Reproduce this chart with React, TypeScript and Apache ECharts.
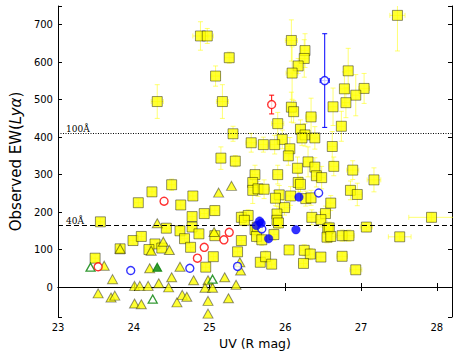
import React, { useEffect, useRef } from "react";
import * as echarts from "echarts";

// Tick values (labels) of the axes
const xTickValues = [23, 24, 25, 26, 27, 28];
const yTickValues = [0, 100, 200, 300, 400, 500, 600, 700];

// Reference lines
const ewLines = [
  { value: 410, label: "100Å" },
  { value: 164, label: "40Å" },
];

// Yellow squares: [UV (R mag), EW, EW error, UV error]
const squares: number[][] = [
  [24.31, 495, 45, 0.08], [24.88, 670, 38, 0.1], [24.97, 670, 20, 0.08], [25.08, 563, 27, 0.06],
  [25.17, 495, 45, 0.08], [25.26, 612, 15, 0.06], [25.31, 409, 20, 0.06], [25.15, 344, 30, 0.05],
  [25.34, 336, 15, 0.06], [26.08, 658, 55, 0.08], [26.26, 631, 45, 0.05], [26.25, 610, 50, 0.06],
  [26.17, 590, 20, 0.05], [26.09, 571, 70, 0.08], [27.48, 725, 95, 0.1], [26.83, 577, 60, 0.05],
  [26.78, 529, 45, 0.06], [27.04, 530, 40, 0.07], [26.93, 512, 55, 0.05], [26.8, 492, 40, 0.05],
  [26.63, 481, 50, 0.06], [26.08, 480, 40, 0.06], [26.11, 468, 30, 0.05], [26.34, 454, 50, 0.07],
  [25.9, 436, 30, 0.08], [26.74, 429, 40, 0.05], [26.2, 421, 25, 0.05], [26.26, 406, 30, 0.06],
  [26.22, 398, 20, 0.05], [26.39, 398, 30, 0.06], [25.96, 394, 25, 0.05], [25.55, 385, 25, 0.07],
  [25.71, 380, 20, 0.06], [25.86, 380, 25, 0.06], [26.62, 375, 40, 0.06], [26.06, 369, 30, 0.06],
  [26.04, 350, 25, 0.05], [26.3, 334, 40, 0.06], [26.16, 317, 30, 0.05], [26.39, 320, 25, 0.05],
  [26.64, 322, 25, 0.06], [26.89, 312, 25, 0.08], [27.17, 286, 32, 0.09], [25.6, 300, 25, 0.06],
  [25.9, 300, 25, 0.06], [24.5, 273, 15, 0.05], [24.24, 254, 12, 0.05], [24.78, 243, 10, 0.05],
  [24.62, 219, 10, 0.05], [23.56, 174, 10, 0.05], [24.06, 225, 10, 0.05], [25.07, 204, 12, 0.05],
  [24.93, 196, 10, 0.05], [24.77, 188, 10, 0.05], [25.57, 279, 30, 0.05], [25.57, 258, 35, 0.05],
  [25.64, 262, 20, 0.05], [25.72, 261, 25, 0.07], [25.99, 212, 20, 0.08], [25.92, 246, 25, 0.05],
  [25.87, 237, 20, 0.05], [26.07, 243, 25, 0.06], [25.42, 186, 15, 0.05], [25.51, 191, 15, 0.05],
  [25.89, 195, 20, 0.05], [25.46, 178, 15, 0.05], [24.43, 157, 10, 0.05], [24.61, 150, 10, 0.05],
  [24.77, 160, 10, 0.05], [24.86, 142, 10, 0.05], [24.67, 129, 10, 0.05], [25.07, 137, 10, 0.05],
  [23.99, 124, 10, 0.05], [24.1, 135, 10, 0.05], [23.82, 102, 10, 0.05], [24.28, 115, 10, 0.05],
  [24.2, 100, 10, 0.05], [24.37, 104, 10, 0.05], [24.75, 106, 10, 0.05], [23.49, 77, 10, 0.05],
  [25.05, 81, 10, 0.05], [24.95, 53, 10, 0.05], [25.37, 94, 10, 0.05], [25.42, 124, 10, 0.05],
  [25.6, 153, 15, 0.05], [25.63, 160, 15, 0.05], [25.62, 135, 15, 0.05], [25.69, 126, 15, 0.05],
  [25.85, 140, 15, 0.05], [25.89, 178, 15, 0.05], [25.91, 171, 15, 0.05], [26.27, 236, 20, 0.05],
  [26.34, 238, 20, 0.06], [26.17, 279, 25, 0.05], [26.2, 274, 20, 0.05], [26.41, 297, 30, 0.06],
  [26.48, 292, 30, 0.05], [26.6, 224, 20, 0.06], [26.53, 196, 20, 0.06], [26.35, 186, 20, 0.06],
  [26.47, 180, 20, 0.06], [27.93, 186, 12, 0.3], [27.07, 160, 12, 0.08], [26.56, 155, 15, 0.06],
  [26.58, 158, 15, 0.06], [26.55, 133, 15, 0.06], [26.6, 135, 15, 0.06], [26.75, 137, 15, 0.07],
  [26.84, 137, 15, 0.07], [27.51, 134, 10, 0.15], [26.86, 258, 25, 0.05], [26.95, 247, 30, 0.06],
  [26.05, 99, 10, 0.05], [26.25, 98, 15, 0.05], [26.33, 88, 15, 0.05], [26.24, 63, 10, 0.06],
  [26.47, 80, 10, 0.06], [26.75, 82, 10, 0.07], [26.93, 46, 10, 0.08], [25.67, 66, 10, 0.05],
  [25.74, 81, 15, 0.05], [25.82, 61, 10, 0.05],
];

// Yellow triangles: [UV, EW]
const triangles: number[][] = [
  [23.61, 57], [23.72, 21], [23.53, -17], [23.7, -28], [23.75, -23], [23.82, 102], [24.01, 3],
  [24.08, 3], [24.01, -44], [24.1, -46], [24.19, 3], [24.21, 50], [24.23, 97], [24.33, 10],
  [24.31, 170], [24.39, 121], [24.47, 99], [24.46, -1], [24.5, 26], [24.57, -41], [24.61, 54],
  [24.64, -21], [24.7, -26], [24.79, 18], [24.98, 18], [24.94, -2], [25.04, -2], [24.98, -37],
  [24.98, -71], [25.2, 26], [25.25, -30], [25.35, 6], [25.06, 147], [25.12, 252], [25.29, 270],
  [25.4, 66], [25.41, 44],
];

// Green triangles
const greenOpenTriangles: number[][] = [[23.43, 53], [24.25, -32], [25.04, 21]];
const greenFilledTriangles: number[][] = [[24.31, 53]];

// Red open circles
const redCircles: number[][] = [
  [23.53, 54], [24.4, 229], [24.84, 77], [24.93, 106], [25.19, 126], [25.26, 146], [25.82, 487],
];
// [UV, EW, EW error, UV error]
const redErrors: number[][] = [[25.82, 487, 25, 0]];

// Blue circles
const blueOpenCircles: number[][] = [
  [23.96, 44], [24.74, 50], [25.37, 55], [25.69, 155], [26.44, 251], [26.52, 551],
];
const blueErrors: number[][] = [[26.52, 551, 125, 0.06]];
const blueFilledCircles: number[][] = [
  [25.62, 164], [25.66, 176], [25.68, 170], [25.78, 129], [26.18, 240], [26.14, 153],
];

const FONT = "DejaVu Sans";

function errRender(color: string, cap: number) {
  return (_params: any, api: any) => {
    const x = api.value(0);
    const y = api.value(1);
    const ey = api.value(2);
    const ex = api.value(3);
    const c = api.coord([x, y]);
    const t = api.coord([x, y + ey]);
    const b = api.coord([x, y - ey]);
    const l = api.coord([x - ex, y]);
    const r = api.coord([x + ex, y]);
    const style = { stroke: color, lineWidth: 1, fill: null };
    const ch: any[] = [];
    if (ey > 0) {
      ch.push({ type: "line", shape: { x1: c[0], y1: t[1], x2: c[0], y2: b[1] }, style });
      ch.push({ type: "line", shape: { x1: c[0] - cap, y1: t[1], x2: c[0] + cap, y2: t[1] }, style });
      ch.push({ type: "line", shape: { x1: c[0] - cap, y1: b[1], x2: c[0] + cap, y2: b[1] }, style });
    }
    if (ex > 0) {
      ch.push({ type: "line", shape: { x1: l[0], y1: c[1], x2: r[0], y2: c[1] }, style });
      ch.push({ type: "line", shape: { x1: l[0], y1: c[1] - cap, x2: l[0], y2: c[1] + cap }, style });
      ch.push({ type: "line", shape: { x1: r[0], y1: c[1] - cap, x2: r[0], y2: c[1] + cap }, style });
    }
    return { type: "group", children: ch };
  };
}

export default function App() {
  const ref = useRef<HTMLDivElement>(null);
  useEffect(() => {
    if (!ref.current) return;
    const chart = echarts.init(ref.current, null, { renderer: "svg" });
    const axisCommon = {
      axisLine: { show: true, lineStyle: { color: "#000", width: 1 } },
      axisTick: { show: true, inside: true, length: 4, lineStyle: { color: "#000", width: 1 } },
      splitLine: { show: false },
    };
    const xBase = { type: "value", min: 23, max: 28.2, interval: 1 };
    const yBase = { type: "value", min: -80, max: 750, minInterval: 100, maxInterval: 100, splitNumber: 8 };
    const xFmt = (v: number) => (xTickValues.includes(v) ? String(v) : "");
    const yFmt = (v: number) => (yTickValues.includes(v) ? String(v) : "");
    const option: any = {
      animation: false,
      backgroundColor: "#fff",
      grid: { left: 50, right: 6, top: 6, bottom: 39, containLabel: false },
      xAxis: [
        {
          ...xBase,
          ...axisCommon,
          position: "bottom",
          axisLabel: { formatter: xFmt, color: "#000", fontFamily: FONT, fontSize: 10, margin: 5 },
          name: "UV (R mag)",
          nameLocation: "middle",
          nameGap: 17,
          nameTextStyle: { color: "#000", fontFamily: FONT, fontSize: 12.5 },
        },
        {
          ...xBase,
          ...axisCommon,
          position: "top",
          axisLabel: { show: false },
        },
      ],
      yAxis: [
        {
          ...yBase,
          ...axisCommon,
          position: "left",
          axisLabel: { formatter: yFmt, color: "#000", fontFamily: FONT, fontSize: 10, margin: 5 },
          name: "{a|Observed EW(}{b|Lyα}{a|)}",
          nameLocation: "middle",
          nameGap: 34,
          nameTextStyle: {
            color: "#000",
            rich: {
              a: { fontFamily: FONT, fontSize: 15, color: "#000" },
              b: { fontFamily: FONT, fontSize: 15, fontStyle: "italic", color: "#000" },
            },
          },
        },
        {
          ...yBase,
          ...axisCommon,
          position: "right",
          axisLabel: { show: false },
        },
      ],
      series: [
        {
          type: "custom",
          renderItem: errRender("rgba(255,255,0,0.55)", 2.5),
          data: squares,
          encode: { x: 0, y: 1 },
          clip: true,
          silent: true,
          z: 1,
          markLine: {
            silent: true,
            symbol: "none",
            animation: false,
            data: ewLines.map((l, i) => ({
              yAxis: l.value,
              lineStyle: { color: "#000", width: 1, type: i === 0 ? [1, 1.5] : [5, 3] },
              label: {
                show: true,
                formatter: l.label,
                position: "insideStartTop",
                distance: [8, 0],
                fontFamily: "DejaVu Serif",
                fontSize: 9,
                color: "#000",
              },
            })),
          },
        },
        {
          type: "scatter",
          data: squares.map((d) => [d[0], d[1]]),
          symbol: "rect",
          symbolSize: 10,
          itemStyle: { color: "#ffff00", borderColor: "rgba(0,0,0,0.55)", borderWidth: 1 },
          z: 2,
        },
        {
          type: "scatter",
          data: triangles,
          symbol: "triangle",
          symbolSize: [10, 9],
          itemStyle: { color: "#ffff00", borderColor: "rgba(0,0,0,0.55)", borderWidth: 1 },
          z: 3,
        },
        {
          type: "scatter",
          data: greenOpenTriangles,
          symbol: "triangle",
          symbolSize: [9, 8],
          itemStyle: { color: "#fff", borderColor: "#008000", borderWidth: 1.3 },
          z: 4,
        },
        {
          type: "scatter",
          data: greenFilledTriangles,
          symbol: "triangle",
          symbolSize: [9, 8],
          itemStyle: { color: "#008000", borderColor: "#008000", borderWidth: 1 },
          z: 4,
        },
        {
          type: "custom",
          renderItem: errRender("#ff0000", 2.5),
          data: redErrors,
          encode: { x: 0, y: 1 },
          clip: true,
          silent: true,
          z: 5,
        },
        {
          type: "custom",
          renderItem: errRender("#0000ff", 2.5),
          data: blueErrors,
          encode: { x: 0, y: 1 },
          clip: true,
          silent: true,
          z: 5,
        },
        {
          type: "scatter",
          data: redCircles,
          symbol: "circle",
          symbolSize: 8,
          itemStyle: { color: "#fff", borderColor: "#ff0000", borderWidth: 1.4 },
          z: 6,
        },
        {
          type: "scatter",
          data: blueOpenCircles,
          symbol: "circle",
          symbolSize: 8,
          itemStyle: { color: "#fff", borderColor: "#0000ff", borderWidth: 1.4 },
          z: 6,
        },
        {
          type: "scatter",
          data: blueFilledCircles,
          symbol: "circle",
          symbolSize: 8.5,
          itemStyle: { color: "#0000ff", borderColor: "#0000ff", borderWidth: 0.5 },
          z: 6,
        },
      ],
    };
    chart.setOption(option);
    return () => chart.dispose();
  }, []);
  return (
    <div
      ref={ref}
      style={{ position: "absolute", left: 0, top: 0, width: 458, height: 356, background: "#fff" }}
    />
  );
}
